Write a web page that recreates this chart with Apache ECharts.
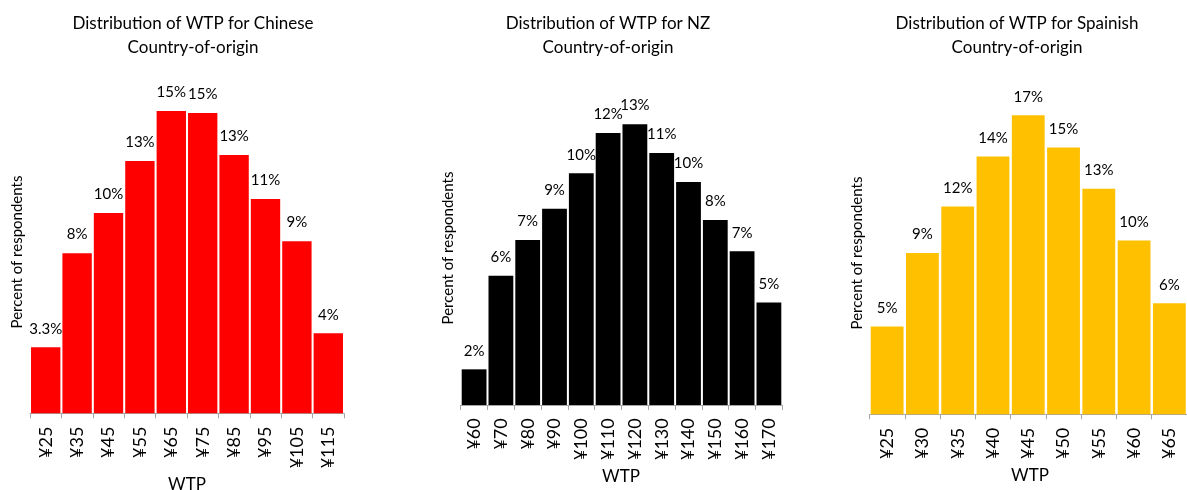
<!DOCTYPE html>
<html>
<head>
<meta charset="utf-8">
<script src="https://cdn.jsdelivr.net/npm/echarts@6/dist/echarts.min.js"></script>
<style>
  html, body { margin: 0; padding: 0; background: #fff; }
  #chart { width: 1187px; height: 490px; }
</style>
</head>
<body>
<div id="chart"></div>
<script>
// WTP bins (price points) for each country-of-origin
const chineseCategories = ['¥25', '¥35', '¥45', '¥55', '¥65', '¥75', '¥85', '¥95', '¥105', '¥115'];
const nzCategories = ['¥60', '¥70', '¥80', '¥90', '¥100', '¥110', '¥120', '¥130', '¥140', '¥150', '¥160', '¥170'];
const spanishCategories = ['¥25', '¥30', '¥35', '¥40', '¥45', '¥50', '¥55', '¥60', '¥65'];

// Percent of respondents in each bin
const chineseValues = [3.3, 8.0, 10.0, 12.6, 15.1, 15.0, 12.9, 10.7, 8.6, 4.0];
const nzValues = [1.6, 5.8, 7.4, 8.8, 10.4, 12.2, 12.6, 11.3, 10.0, 8.3, 6.9, 4.6];
const spanishValues = [4.9, 9.0, 11.6, 14.4, 16.7, 14.9, 12.6, 9.7, 6.2];

// Decimal places shown in each bar's percent label
const chineseLabelDigits = [1, 0, 0, 0, 0, 0, 0, 0, 0, 0];
const nzLabelDigits = [0, 0, 0, 0, 0, 0, 0, 0, 0, 0, 0, 0];
const spanishLabelDigits = [0, 0, 0, 0, 0, 0, 0, 0, 0];

const FONT = 'Lato';
const TEXT = '#000000';

const panels = [
  { title: 'Distribution of WTP for Chinese\nCountry-of-origin', cats: chineseCategories, vals: chineseValues, digits: chineseLabelDigits,
    color: '#FF0000', left: 30, width: 314, bottom: 413.3, offset: 2.3, yMax: 18, pxPer: 20.02, gap: '6.5%', margin: 11,
    titleX: 193, yTitleX: 17, yTitleY: 252, xTitleX: 187, xTitleY: 485 },
  { title: 'Distribution of WTP for NZ\nCountry-of-origin', cats: nzCategories, vals: nzValues, digits: nzLabelDigits,
    color: '#000000', left: 460.7, width: 321.6, bottom: 405, offset: 2.3, yMax: 16, pxPer: 22.29, gap: '7.5%', margin: 11,
    titleX: 608, yTitleX: 448, yTitleY: 248, xTitleX: 621, xTitleY: 477 },
  { title: 'Distribution of WTP for Spainish\nCountry-of-origin', cats: spanishCategories, vals: spanishValues, digits: spanishLabelDigits,
    color: '#FFC000', left: 869.5, width: 321, bottom: 414.3, offset: 1.4, yMax: 20, pxPer: 17.91, gap: '7%', margin: 12,
    titleX: 1017, yTitleX: 857, yTitleY: 253, xTitleX: 1030, xTitleY: 476 }
];

const option = {
  animation: false,
  backgroundColor: '#ffffff',
  textStyle: { fontFamily: FONT },
  title: panels.map(p => ({
    text: p.title,
    left: p.titleX,
    top: 12,
    padding: 0,
    textAlign: 'center',
    textStyle: { fontFamily: FONT, fontSize: 17, fontWeight: 'normal', color: TEXT, lineHeight: 24 }
  })),
  grid: panels.map(p => {
    const h = p.yMax * p.pxPer;
    return { left: p.left, width: p.width, top: p.bottom - h, height: h, containLabel: false };
  }),
  xAxis: panels.map((p, i) => ({
    type: 'category',
    gridIndex: i,
    data: p.cats,
    offset: p.offset,
    axisLine: { show: true, lineStyle: { color: '#A6A6A6', width: 1 } },
    axisTick: { show: true, length: 5, lineStyle: { color: '#A6A6A6' } },
    axisLabel: { rotate: 90, margin: p.margin, fontFamily: FONT, fontSize: 18, color: TEXT, interval: 0 },
    splitLine: { show: false }
  })),
  yAxis: panels.map((p, i) => ({
    type: 'value',
    gridIndex: i,
    min: 0,
    max: p.yMax,
    show: false
  })),
  series: panels.map((p, i) => ({
    type: 'bar',
    xAxisIndex: i,
    yAxisIndex: i,
    data: p.vals,
    barCategoryGap: p.gap,
    itemStyle: { color: p.color },
    label: {
      show: true,
      position: 'top',
      distance: 11,
      fontFamily: FONT,
      fontSize: 15,
      color: TEXT,
      formatter: params => params.value.toFixed(p.digits[params.dataIndex]) + '%'
    }
  })),
  graphic: panels.flatMap(p => [
    {
      type: 'text',
      x: p.yTitleX,
      y: p.yTitleY,
      rotation: Math.PI / 2,
      style: { text: 'Percent of respondents', fontFamily: FONT, fontSize: 15, fill: TEXT, align: 'center', verticalAlign: 'middle' }
    },
    {
      type: 'text',
      x: p.xTitleX,
      y: p.xTitleY,
      style: { text: 'WTP', fontFamily: FONT, fontSize: 17, fill: TEXT, align: 'center', verticalAlign: 'middle' }
    }
  ])
};

const chart = echarts.init(document.getElementById('chart'), null, { renderer: 'canvas' });
chart.setOption(option);
</script>
</body>
</html>
